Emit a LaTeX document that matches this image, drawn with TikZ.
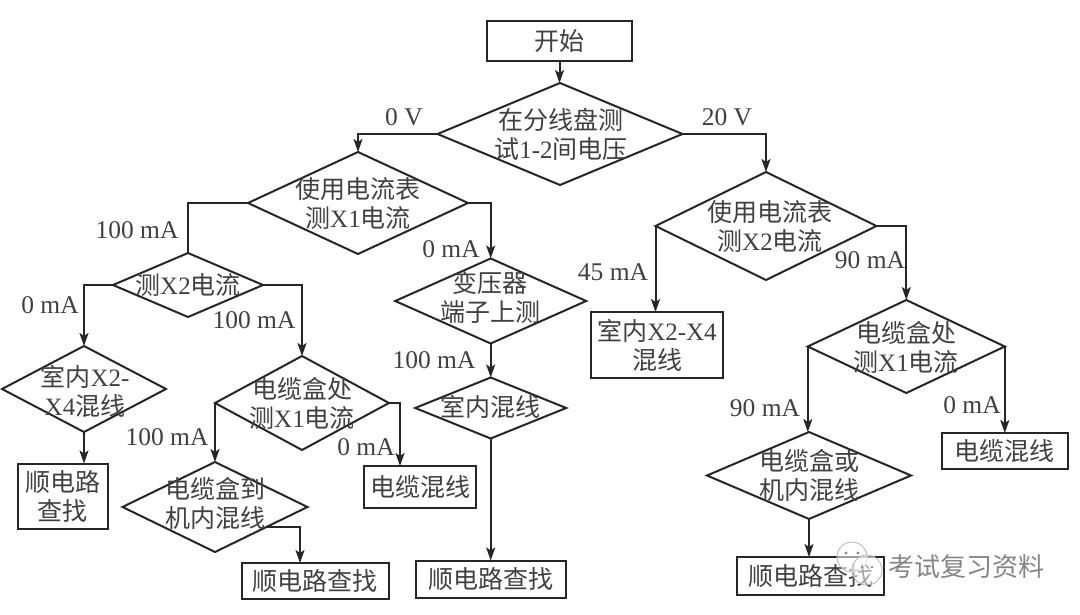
\documentclass[tikz,border=0pt]{standalone}
\usepackage{fontspec}
\setmainfont{Liberation Serif}
\newfontfamily\cj{Noto Sans CJK SC}
\usetikzlibrary{shapes.geometric,arrows.meta}
\definecolor{ink}{HTML}{262626}
\definecolor{tx}{HTML}{404040}
\tikzset{
  x=1pt,y=-1pt,
  dia/.style 2 args={diamond,draw=ink,line width=2pt,inner sep=0pt,outer sep=0pt,
    minimum width=#1pt,minimum height=#2pt,line join=miter},
  bx/.style 2 args={rectangle,draw=ink,line width=2pt,inner sep=0pt,outer sep=0pt,
    minimum width=#1pt,minimum height=#2pt,align=center,text=tx,
    font=\fontsize{25}{29}\selectfont},
  txt/.style={align=center,inner sep=0pt,text=tx,font=\fontsize{25}{29}\selectfont},
  lab/.style={inner sep=0pt,text=tx,font=\fontsize{25.5}{29}\selectfont},
  arr/.style={draw=ink,line width=2pt,-{Stealth[length=13pt,width=9pt,inset=3pt]}},
  lin/.style={draw=ink,line width=2pt},
  wm/.style={inner sep=0pt,text=black!48,font=\fontsize{26}{30}\selectfont\cj},
}
\begin{document}
\begin{tikzpicture}
\useasboundingbox (0,0) rectangle (1080,615);
% decisions
\node[dia={245}{102}] (D0) at (560,134) {};
\node[dia={220}{102}] (D1) at (358,203) {};
\node[dia={150}{64}]  (D2) at (188,285) {};
\node[dia={164}{86}]  (D3) at (84,389) {};
\node[dia={174}{94}]  (D4) at (302,403) {};
\node[dia={185}{90}]  (D5) at (215,507) {};
\node[dia={191}{85}]  (D9) at (490.7,301) {};
\node[dia={151}{61}]  (D10) at (490.7,408) {};
\node[dia={221}{108}] (D6) at (766,226) {};
\node[dia={197}{93}]  (D7) at (906.3,346.5) {};
\node[dia={204}{87}]  (D8) at (809,475.5) {};
% boxes
\node[bx={145}{40}] (B0) at (559.5,41) {\cj 开始};
\node[bx={90}{65}]  (B3) at (63,496) {\cj 顺电路\\\cj 查找};
\node[bx={112}{42}] (B4) at (420,487) {\cj 电缆混线};
\node[bx={147}{36}] (B5) at (315,581) {\cj 顺电路查找};
\node[bx={150}{37}] (B10) at (490.7,579) {\cj 顺电路查找};
\node[bx={132}{66}] (B6) at (657,345) {{\cj 室内}X2-X4\\\cj 混线};
\node[bx={126}{36}] (B7) at (1004.8,451) {\cj 电缆混线};
\node[bx={147}{38}] (B8) at (810.5,576) {\cj 顺电路查找};
% diamond texts
\node[txt] (T0) at (561,134) {{\cj 在分线盘测}\\{\cj 试}1-2{\cj 间电压}};
\node[txt] (T1) at (358,203) {{\cj 使用电流表}\\{\cj 测}X1{\cj 电流}};
\node[txt] (T2) at (188,285) {{\cj 测}X2{\cj 电流}};
\node[txt] (T3) at (85,391) {{\cj 室内}X2-\\X4{\cj 混线}};
\node[txt] (T4) at (302,403) {{\cj 电缆盒处}\\{\cj 测}X1{\cj 电流}};
\node[txt] (T5) at (215,503) {{\cj 电缆盒到}\\{\cj 机内混线}};
\node[txt] (T9) at (490,297) {{\cj 变压器}\\{\cj 端子上测}};
\node[txt] (T10) at (490,407) {\cj 室内混线};
\node[txt] (T6) at (770,226) {{\cj 使用电流表}\\{\cj 测}X2{\cj 电流}};
\node[txt] (T7) at (906,347) {{\cj 电缆盒处}\\{\cj 测}X1{\cj 电流}};
\node[txt] (T8) at (809,475) {{\cj 电缆盒或}\\{\cj 机内混线}};
% free ends on box tops, off centre
\coordinate (c4) at (400,466);
\coordinate (c5) at (300,563);
% connectors
\draw[arr] (B0) -- (B0.south |- D0.north);
\draw[arr] (D0.west) -| (D1.north);
\draw[arr] (D0.east) -| (D6.north);
\draw[lin] (D1.west) -| (D2.north);
\draw[arr] (D1.east) -| (D9.north);
\draw[arr] (D2.west) -| (D3.north);
\draw[arr] (D2.east) -| (D4.north);
\draw[arr] (D3.south) -- (D3.south |- B3.north);
\draw[arr] (D4.west) -- (D5.north);
\draw[arr] (D4.east) -| (c4);
\draw[arr] (D5.-21) -| (c5);
\draw[arr] (D9.south) -- (D10.north);
\draw[arr] (D10.south) -- (B10.north);
\draw[arr] (D6.west) -- (D6.west |- B6.north);
\draw[arr] (D6.east) -| (D7.north);
\draw[arr] (D7.west) -- (D7.west |- D8.north);
\draw[arr] (D7.east) -- (B7.north);
\draw[arr] (D8.south) -- (D8.south |- B8.north);
% edge labels
\node[lab] (L1) at (404,117) {0 V};
\node[lab] (L2) at (727,117) {20 V};
\node[lab] (L3) at (137,230) {100 mA};
\node[lab] (L4) at (50,305) {0 mA};
\node[lab] (L5) at (254,320) {100 mA};
\node[lab] (L6) at (451,249) {0 mA};
\node[lab] (L7) at (434,360) {100 mA};
\node[lab] (L8) at (167,437) {100 mA};
\node[lab] (L9) at (366,447) {0 mA};
\node[lab] (L10) at (613,272) {45 mA};
\node[lab] (L11) at (870,260) {90 mA};
\node[lab] (L12) at (765,408) {90 mA};
\node[lab] (L13) at (972,405) {0 mA};
% watermark
\fill[white,fill opacity=.55,draw=black!30,line width=.8pt] (852,557) circle (15);
\fill[black!45] (846,553) circle (1.6) (858,553) circle (1.6);
\fill[white,fill opacity=.55,draw=black!30,line width=.8pt] (867,570) circle (15);
\fill[black!45] (862,567) circle (1.4) (872,567) circle (1.4);
\node[wm] (W) at (966,567) {考试复习资料};
\end{tikzpicture}
\end{document}
